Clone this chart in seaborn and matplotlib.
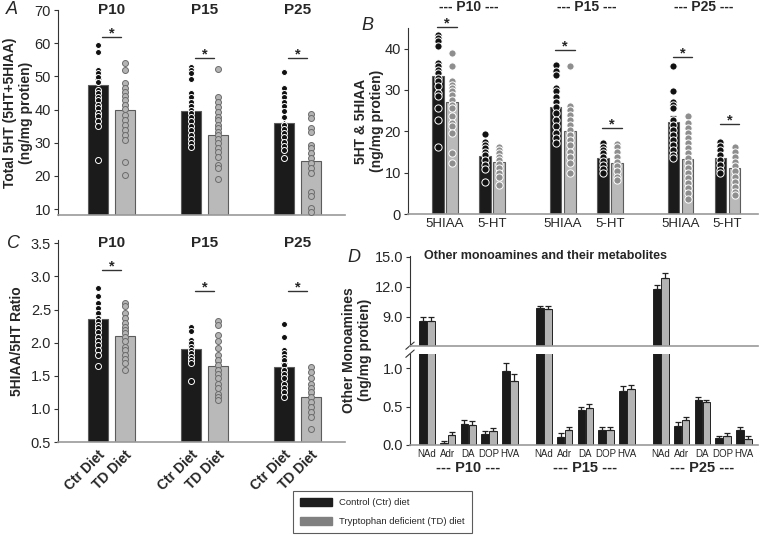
import numpy as np
import pandas as pd
import matplotlib
matplotlib.use("Agg")
import matplotlib.pyplot as plt
import matplotlib.transforms as mtrans
from matplotlib.patches import Patch
import seaborn as sns

ages = ["P10", "P15", "P25"]
diets = ["Ctr Diet", "TD Diet"]

# A: total 5HT (5HT+5HIAA)
total_mean_ctr = [47.3, 39.6, 35.9]
total_mean_td = [39.8, 32.4, 24.6]
total_sem_ctr = [1.9, 1.6, 1.5]
total_sem_td = [1.9, 1.7, 1.9]
total_pts_ctr = [
    [59.4, 57.4, 51.9, 50.9, 49.7, 48.4, 45.9, 44.9, 43.9, 42.9, 41.4, 40.4, 38.9, 37.9, 36.4, 35.1, 24.8],
    [52.9, 51.9, 50.9, 49.1, 45.1, 43.7, 42.4, 41.1, 39.9, 38.9, 37.7, 36.4, 35.0, 33.8, 32.3, 31.0, 29.8, 28.6],
    [51.4, 46.4, 45.1, 43.9, 42.4, 41.1, 39.6, 37.6, 35.3, 34.0, 32.8, 31.6, 30.3, 29.0, 27.8, 25.3],
]
total_pts_td = [
    [54.1, 51.9, 47.9, 46.4, 45.4, 44.1, 42.9, 41.4, 40.1, 38.3, 36.8, 35.3, 33.8, 32.3, 30.8, 24.3, 20.3],
    [52.1, 43.7, 42.4, 40.7, 39.3, 37.8, 36.8, 35.3, 34.3, 33.3, 32.3, 31.0, 29.8, 28.3, 27.3, 25.8, 23.3, 22.3, 19.0],
    [38.6, 37.3, 34.3, 33.3, 29.3, 28.3, 26.8, 25.3, 23.8, 22.3, 20.8, 15.2, 13.9, 10.2, 9.2],
]
total_sig = [61.9, 55.5, 55.5]

# B: 5HIAA and 5-HT
compounds_b = ["5HIAA", "5-HT"]
b_mean_ctr = [[33.3, 14.1], [26.0, 13.6], [22.3, 13.6]]
b_mean_td = [[27.0, 12.7], [20.2, 12.3], [13.4, 11.1]]
b_sem_ctr = [[1.6, 0.7], [1.3, 0.5], [1.4, 0.5]]
b_sem_td = [[1.6, 0.6], [1.5, 0.6], [1.3, 0.8]]
b_pts_ctr = [
    [[43.4, 42.6, 41.8, 40.6, 36.5, 35.7, 34.9, 34.1, 32.9, 32.1, 30.9, 29.3, 28.5, 25.6, 22.8, 16.3],
     [19.3, 17.5, 16.7, 15.9, 15.1, 14.3, 13.1, 11.9, 10.8, 7.7]],
    [[36.1, 34.5, 33.7, 30.5, 29.7, 28.4, 27.2, 26.0, 24.4, 22.8, 21.2, 19.6, 18.3, 17.1],
     [17.1, 16.3, 15.5, 14.7, 13.9, 12.9, 11.9, 10.8, 9.9]],
    [[35.7, 29.7, 27.2, 26.4, 25.6, 22.8, 21.6, 20.4, 19.2, 17.9, 16.7, 15.5, 14.3, 13.5],
     [17.5, 16.5, 15.5, 14.3, 13.1, 11.9, 10.7, 9.9]],
]
b_pts_td = [
    [[39.0, 35.7, 32.1, 31.3, 30.5, 29.7, 28.8, 27.6, 26.4, 25.6, 23.6, 22.0, 21.2, 19.6, 14.7, 12.3],
     [16.3, 15.5, 14.7, 13.9, 13.1, 12.1, 11.1, 10.0, 9.0, 7.0]],
    [[35.7, 26.2, 25.2, 24.0, 22.8, 21.6, 20.4, 19.2, 17.9, 16.7, 15.1, 13.9, 12.3, 10.0],
     [17.0, 16.2, 15.1, 13.9, 12.7, 11.5, 10.3, 9.0, 8.2]],
    [[23.6, 22.0, 20.8, 19.6, 18.3, 17.1, 15.9, 14.7, 13.5, 12.3, 11.1, 9.9, 8.7, 7.4, 6.2, 5.0, 3.6],
     [16.3, 15.1, 13.9, 12.7, 11.5, 10.3, 9.0, 7.8, 6.6, 5.4, 4.6]],
]
b_sig = [[45.3, None], [39.6, 20.9], [38.1, 21.8]]

# C: 5HIAA/5HT ratio
ratio_mean_ctr = [2.35, 1.91, 1.63]
ratio_mean_td = [2.10, 1.64, 1.18]
ratio_sem_ctr = [0.08, 0.05, 0.06]
ratio_sem_td = [0.06, 0.07, 0.05]
ratio_pts_ctr = [
    [2.83, 2.70, 2.60, 2.53, 2.45, 2.37, 2.32, 2.27, 2.22, 2.16, 2.09, 2.03, 1.97, 1.89, 1.81, 1.64],
    [2.23, 2.17, 2.04, 1.99, 1.94, 1.89, 1.84, 1.79, 1.74, 1.69, 1.42],
    [2.28, 2.09, 1.89, 1.84, 1.79, 1.74, 1.66, 1.59, 1.52, 1.46, 1.38, 1.32, 1.26, 1.18],
]
ratio_pts_td = [
    [2.60, 2.55, 2.45, 2.37, 2.29, 2.24, 2.19, 2.14, 2.09, 2.03, 1.94, 1.89, 1.81, 1.76, 1.69, 1.59],
    [2.32, 2.27, 2.12, 2.02, 1.92, 1.81, 1.74, 1.66, 1.59, 1.52, 1.46, 1.38, 1.31, 1.23, 1.18, 1.13],
    [1.63, 1.56, 1.46, 1.38, 1.32, 1.25, 1.18, 1.11, 1.03, 0.95, 0.88, 0.69],
]
ratio_sig = [3.09, 2.78, 2.78]

# D: other monoamines
compounds_d = ["NAd", "Adr", "DA", "DOP", "HVA"]
d_mean_ctr = [[8.57, 0.03, 0.28, 0.14, 0.97], [9.83, 0.11, 0.46, 0.20, 0.70], [11.77, 0.25, 0.59, 0.095, 0.19]]
d_mean_td = [[8.60, 0.13, 0.26, 0.18, 0.83], [9.75, 0.19, 0.48, 0.19, 0.73], [12.90, 0.32, 0.56, 0.12, 0.08]]
d_sem_ctr = [[0.45, 0.02, 0.05, 0.04, 0.10], [0.28, 0.04, 0.04, 0.04, 0.07], [0.42, 0.05, 0.03, 0.02, 0.05]]
d_sem_td = [[0.40, 0.04, 0.05, 0.04, 0.09], [0.35, 0.04, 0.05, 0.04, 0.05], [0.50, 0.05, 0.03, 0.03, 0.04]]

sns.set_style("ticks")
plt.rcParams["font.family"] = ["Liberation Sans", "DejaVu Sans"]
plt.rcParams["axes.linewidth"] = 0.8


def build(means_c, means_t, sems_c, sems_t, pts_c, pts_t, group_step, cat_step, nested):
    bars, pts = [], []
    for g, age in enumerate(ages):
        ncat = len(means_c[g]) if nested else 1
        for c in range(ncat):
            for i, (m, s, p) in enumerate([(means_c, sems_c, pts_c), (means_t, sems_t, pts_t)]):
                pos = g * group_step + c * cat_step + i - 0.5
                mv = m[g][c] if nested else m[g]
                sv = s[g][c] if nested else s[g]
                bars.append({"age": age, "cat": c, "diet": diets[i], "pos": pos, "mean": mv, "sem": sv})
                if p is not None:
                    vals = p[g][c] if nested else p[g]
                    for v in vals:
                        pts.append({"diet": diets[i], "pos": pos, "value": v})
    return pd.DataFrame(bars), pd.DataFrame(pts)


def draw(ax, bars, pts, palette, edge, width, lw, pt_style, ecolor):
    sns.barplot(data=bars, x="pos", y="mean", hue="diet", palette=palette, native_scale=True,
                dodge=False, width=width, edgecolor=edge, linewidth=lw, errorbar=None,
                legend=False, orient="x", ax=ax, zorder=1)
    ax.errorbar(bars["pos"], bars["mean"], yerr=[np.zeros(len(bars)), bars["sem"]], fmt="none",
                ecolor=ecolor, elinewidth=0.9, capsize=2.2, capthick=0.9, zorder=2)
    if pts is not None and len(pts):
        for d in diets:
            face, edgec, size = pt_style[d]
            sns.stripplot(data=pts[pts["diet"] == d], x="pos", y="value", native_scale=True,
                          jitter=False, orient="x", color=face, edgecolor=edgec, linewidth=0.7,
                          size=size, ax=ax, zorder=3)


def sig(ax, xc, y, half):
    ax.plot([xc - half, xc + half], [y, y], color="#333333", lw=1.0, clip_on=False)
    ax.annotate("*", (xc, y), xytext=(0, -2.5), textcoords="offset points", ha="center",
                va="bottom", fontsize=10.5, fontweight="bold", annotation_clip=False)


fig = plt.figure(figsize=(7.62, 5.37), dpi=100)
W, H = 762.0, 537.0


def axes_px(x0, x1, y0, y1):
    return fig.add_axes([x0 / W, 1 - y1 / H, (x1 - x0) / W, (y1 - y0) / H])


pal_ac = {"Ctr Diet": "#1b1b1b", "TD Diet": "#b9b9b9"}
pts_ac = {"Ctr Diet": ("#111111", "white", 4.3), "TD Diet": ("#b4b4b4", "#6c6c6c", 4.3)}
pts_b = {"Ctr Diet": ("#111111", "white", 5.2), "TD Diet": ("#8e8e8e", "white", 5.2)}

step_ac = 93 / 27.0

# ---- Panel A
axA = axes_px(58, 345, 10, 215)
barsA, ptsA = build(total_mean_ctr, total_mean_td, total_sem_ctr, total_sem_td,
                    total_pts_ctr, total_pts_td, step_ac, 0, False)
draw(axA, barsA, ptsA, pal_ac, "#5c5c5c", 0.75, 0.8, pts_ac, "#555555")
axA.set_xlim(-1.98, 8.65)
axA.set_ylim(8.2, 70)
axA.set_yticks(range(10, 71, 10))
axA.set_xticks([])
axA.set_xlabel("")
axA.set_ylabel("Total 5HT (5HT+5HIAA)\n(ng/mg protien)", fontsize=10, fontweight="bold")
axA.yaxis.set_label_coords(-0.087, 0.5)
tA = mtrans.blended_transform_factory(axA.transData, axA.transAxes)
for g, age in enumerate(ages):
    axA.text(g * step_ac, 1.0, age, transform=tA, ha="center", va="center", fontsize=11, fontweight="bold")
    sig(axA, g * step_ac, total_sig[g], 0.36)

# ---- Panel C
axC = axes_px(58, 345, 240, 442)
barsC, ptsC = build(ratio_mean_ctr, ratio_mean_td, ratio_sem_ctr, ratio_sem_td,
                    ratio_pts_ctr, ratio_pts_td, step_ac, 0, False)
draw(axC, barsC, ptsC, pal_ac, "#5c5c5c", 0.75, 0.8, pts_ac, "#555555")
axC.set_xlim(-1.98, 8.65)
axC.set_ylim(0.5, 3.55)
axC.set_yticks(np.arange(0.5, 3.51, 0.5))
axC.yaxis.set_major_formatter(matplotlib.ticker.FormatStrFormatter("%.1f"))
axC.set_xticks(barsC["pos"])
axC.set_xticklabels(barsC["diet"], rotation=45, ha="right", rotation_mode="anchor",
                    fontsize=10, fontweight="bold")
axC.tick_params(axis="x", length=0, pad=4)
axC.set_xlabel("")
axC.set_ylabel("5HIAA/5HT Ratio", fontsize=10, fontweight="bold")
axC.yaxis.set_label_coords(-0.118, 0.5)
tC = mtrans.blended_transform_factory(axC.transData, axC.transAxes)
for g, age in enumerate(ages):
    axC.text(g * step_ac, 0.985, age, transform=tC, ha="center", va="center", fontsize=11, fontweight="bold")
    sig(axC, g * step_ac, ratio_sig[g], 0.36)

# ---- Panel B
unit_b = 14.2
gstep_b, cstep_b = 117.5 / unit_b, 47 / unit_b
axB = axes_px(408, 758, 28, 214)
barsB, ptsB = build(b_mean_ctr, b_mean_td, b_sem_ctr, b_sem_td, b_pts_ctr, b_pts_td,
                    gstep_b, cstep_b, True)
draw(axB, barsB, ptsB, pal_ac, "#5c5c5c", 0.82, 0.8, pts_b, "#555555")
axB.set_xlim(-2.6, 22.0)
axB.set_ylim(0, 45)
axB.set_yticks(range(0, 41, 10))
centersB = [g * gstep_b + c * cstep_b for g in range(3) for c in range(2)]
axB.set_xticks(centersB)
axB.set_xticklabels(compounds_b * 3, fontsize=9.5)
axB.tick_params(axis="x", length=0, pad=3)
axB.set_xlabel("")
axB.set_ylabel("5HT & 5HIAA\n(ng/mg protien)", fontsize=10, fontweight="bold")
axB.yaxis.set_label_coords(-0.068, 0.5)
tB = mtrans.blended_transform_factory(axB.transData, axB.transAxes)
for g, age in enumerate(ages):
    axB.text(g * gstep_b + cstep_b / 2, 1.115, "--- %s ---" % age, transform=tB, ha="center",
             va="center", fontsize=10, fontweight="bold")
    for c in range(2):
        if b_sig[g][c] is not None:
            sig(axB, g * gstep_b + c * cstep_b + 0.15, b_sig[g][c], 0.68)

# ---- Panel D (broken axis)
unit_d = 8.0
gstep_d, cstep_d = 117 / unit_d, 20.8 / unit_d
axDt = axes_px(410, 758, 255.7, 345.7)
axDb = axes_px(410, 758, 353.7, 445)
barsD, _ = build(d_mean_ctr, d_mean_td, d_sem_ctr, d_sem_td, None, None, gstep_d, cstep_d, True)
pal_d = {"Ctr Diet": "#1b1b1b", "TD Diet": "#b4b4b4"}
for ax in (axDt, axDb):
    draw(ax, barsD, None, pal_d, "#222222", 0.96, 0.7, None, "#222222")
    ax.set_xlim(-2.1, 41.4)
    ax.set_xlabel("")
    ax.set_ylabel("")
axDt.set_ylim(6.1, 15.1)
axDt.set_yticks([9.0, 12.0, 15.0])
axDb.set_ylim(0, 1.19)
axDb.set_yticks([0.0, 0.5, 1.0])
for ax in (axDt, axDb):
    ax.yaxis.set_major_formatter(matplotlib.ticker.FormatStrFormatter("%.1f"))
axDt.set_xticks([])
axDt.spines["bottom"].set_visible(False)
centersD = [g * gstep_d + c * cstep_d for g in range(3) for c in range(5)]
axDb.set_xticks(centersD)
axDb.set_xticklabels(compounds_d * 3, fontsize=7)
axDb.tick_params(axis="x", length=0, pad=3)
tD = mtrans.blended_transform_factory(axDb.transData, axDb.transAxes)
for g, age in enumerate(ages):
    axDb.text(g * gstep_d + 2 * cstep_d, -0.25, "--- %s ---" % age, transform=tD, ha="center",
              va="center", fontsize=10.5, fontweight="bold")
axDt.text(0.39, 1.0, "Other monoamines and their metabolites", transform=axDt.transAxes,
          ha="center", va="center", fontsize=9, fontweight="bold")
# break marks
for ax, yy in ((axDt, 0.0), (axDb, 1.0)):
    ax.plot([-0.012, 0.012], [yy - 0.04, yy + 0.04], transform=ax.transAxes, color="#333333",
            lw=0.8, clip_on=False)
fig.text(357 / W, 1 - 350 / H, "Other Monoamines\n(ng/mg protien)", rotation=90, ha="center",
         va="center", fontsize=10, fontweight="bold")

for ax in (axA, axB, axC, axDt, axDb):
    sns.despine(ax=ax)
    ax.tick_params(axis="y", labelsize=10.5, length=3, width=0.8, color="#333333", pad=2)
    ax.spines["left"].set_color("#333333")
    ax.spines["bottom"].set_color("#999999")
    ax.spines["bottom"].set_linewidth(1.2)

# panel letters
for lab, x, y in (("A", 12, 10), ("B", 367, 26), ("C", 13, 243), ("D", 354, 257)):
    fig.text(x / W, 1 - y / H, lab, fontsize=13, fontstyle="italic", ha="center", va="center")

handles = [Patch(facecolor="#1e1e1e", edgecolor="#1e1e1e"),
           Patch(facecolor="#808080", edgecolor="#808080")]
leg = fig.legend(handles, ["Control (Ctr) diet", "Tryptophan deficient (TD) diet"],
                 loc="lower left", bbox_to_anchor=(293 / W, 4 / H), fontsize=6.8, frameon=True,
                 fancybox=False, edgecolor="#333333", handlelength=3.4, handleheight=1.0,
                 labelspacing=1.0, borderpad=0.7, borderaxespad=0)
leg.get_frame().set_linewidth(0.8)

fig.savefig("out.png", dpi=100)
